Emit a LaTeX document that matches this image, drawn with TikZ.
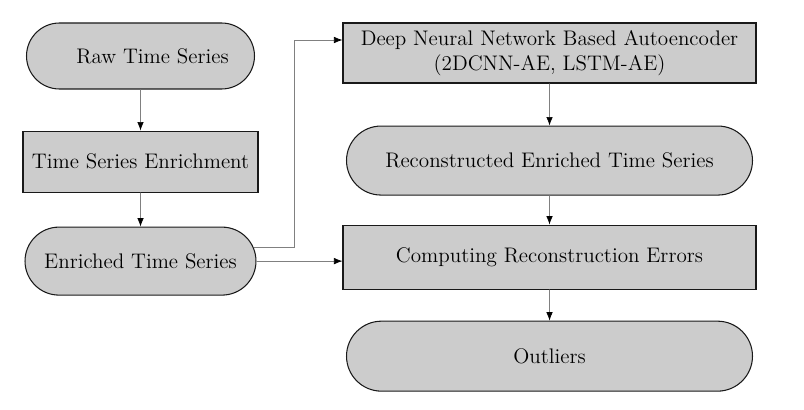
\documentclass[tikz,border=0pt]{standalone}
\usepackage{tikz}
\usetikzlibrary{positioning,shapes.misc,arrows.meta}

\begin{document}
\begin{tikzpicture}[
			box/.style={draw=black!90, line width=0.6pt, rectangle, fill=black!20, align=center, font=\large, inner sep=2pt},
			stadium/.style={box, rounded rectangle},
			arrow/.style={-{Latex[length=1.7mm, width=1.3mm, black]}, draw=black!50}
		]
		\useasboundingbox (0,0) rectangle (16.08,-8.2);

		% left column
		\node[stadium, minimum width=4.7cm, minimum height=1.32cm] (raw) at (2.81,-1.12) {\hspace*{0.48cm}Raw Time Series};
		\node[box, minimum width=4.7cm, minimum height=1.22cm, below=0.82cm of raw] (enrich) {Time Series Enrichment};
		\node[stadium, minimum width=4.76cm, minimum height=1.36cm, below=0.68cm of enrich] (enriched) {Enriched Time Series};

		% right column
		\node[box, minimum width=8.26cm, minimum height=1.2cm] (deep) at (10.99,-1.06) {Deep Neural Network Based Autoencoder\\(2DCNN-AE, LSTM-AE)};
		\node[stadium, minimum width=8.26cm, minimum height=1.38cm, below=0.84cm of deep] (recon) {Reconstructed Enriched Time Series};
		\node[box, minimum width=8.26cm, minimum height=1.28cm, below=0.58cm of recon] (comp) {Computing Reconstruction Errors};
		\node[stadium, minimum width=8.26cm, minimum height=1.4cm, below=0.62cm of comp] (out) {Outliers};

		\draw[arrow] (raw) -- (enrich);
		\draw[arrow] (enrich) -- (enriched);
		\draw[arrow] ([xshift=-0.06cm, yshift=0.28cm]enriched.east) -- ++(0.82,0) |- ([yshift=0.26cm]deep.west);
		\draw[arrow] (enriched.east) -- (enriched.east -| comp.west);
		\draw[arrow] (deep) -- (recon);
		\draw[arrow] (recon) -- (comp);
		\draw[arrow] (comp) -- (out);
	\end{tikzpicture}
\end{document}
